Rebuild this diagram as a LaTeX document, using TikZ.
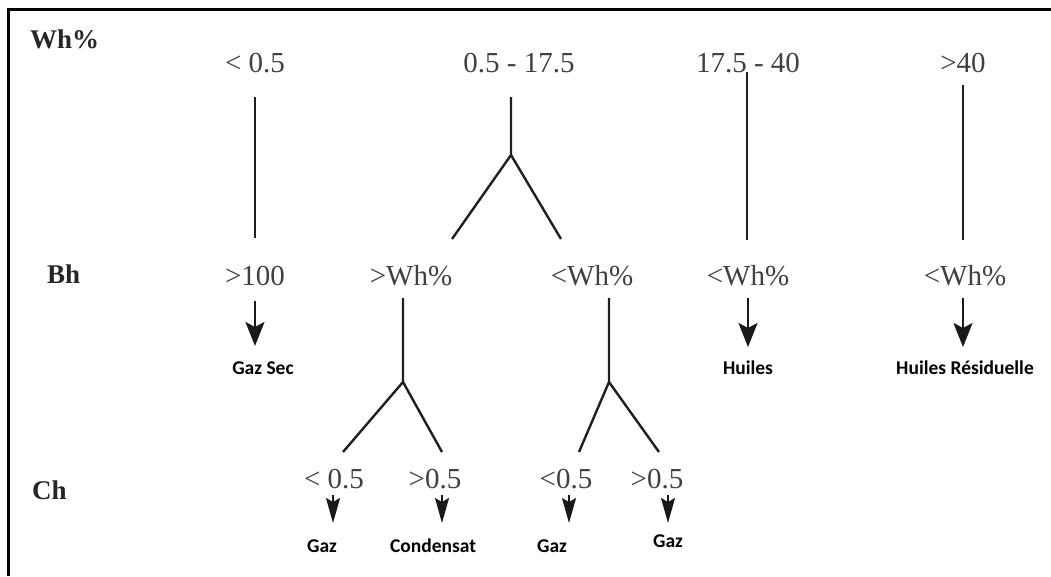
\documentclass[tikz,border=0pt]{standalone}
\usepackage{fontspec}
\setmainfont{Liberation Serif}
\newfontfamily\lblfont{Carlito}
\usetikzlibrary{arrows.meta}
\begin{document}
\begin{tikzpicture}[x=1pt,y=-1pt,
  val/.style={anchor=base, inner sep=0pt, text=black!75, font=\fontsize{29}{30}\selectfont},
  rowhead/.style={anchor=base west, inner sep=0pt, text=black!85, font=\fontsize{27}{28}\selectfont\bfseries},
  res/.style={anchor=base, inner sep=0pt, font=\lblfont\bfseries\fontsize{19.5}{20}\selectfont},
  link/.style={line width=2.4pt, draw=black!88},
  bigarr/.style={line width=2.4pt, draw=black!90, -{Stealth[length=24pt,width=19pt,inset=5pt]}},
  smallarr/.style={line width=1.8pt, draw=black!90, -{Stealth[length=25pt,width=14pt,inset=4pt]}}]
\useasboundingbox (0,0) rectangle (1051,576);
% frame (top and left edges)
\draw[line width=3pt] (8,576) -- (8,9.5) -- (1051,9.5);

% row headings
\node[rowhead] (hw) at (30,48) {Wh\%};
\node[rowhead] (hb) at (47,283) {Bh};
\node[rowhead] (hc) at (32,499) {Ch};

% Wh% values
\node[val] (w1) at (255,72) {< 0.5};
\node[val] (w2) at (519,72) {0.5 - 17.5};
\node[val] (w3) at (748,72) {17.5 - 40};
\node[val] (w4) at (963,72) {>40};

% Bh values
\node[val] (b1) at (255,285) {>100};
\node[val] (b2) at (411,285) {>Wh\%};
\node[val] (b3) at (592,285) {<Wh\%};
\node[val] (b4) at (748,285) {<Wh\%};
\node[val] (b5) at (965,285) {<Wh\%};

% Ch values
\node[val] (c1) at (334,488) {< 0.5};
\node[val] (c2) at (435,488) {>0.5};
\node[val] (c3) at (566,488) {<0.5};
\node[val] (c4) at (657,488) {>0.5};

% results
\node[res] (r1) at (263,374) {Gaz Sec};
\node[res] (r2) at (748,374) {Huiles};
\node[res] (r3) at (965,374) {Huiles Résiduelle};
\node[res] (r4) at (322,552) {Gaz};
\node[res] (r5) at (433,552) {Condensat};
\node[res] (r6) at (552,552) {Gaz};
\node[res] (r7) at (668,547) {Gaz};

% connector end points
\coordinate (w1s) at (255,97);   \coordinate (b1n) at (255,238);
\coordinate (w2s) at (511,97);   \coordinate (j2) at (511,155);
\coordinate (b2n) at (452,239);  \coordinate (b3n) at (561,239);
\coordinate (w3s) at (747,72);   \coordinate (b4n) at (747,240);
\coordinate (w4s) at (963,85);   \coordinate (b5n) at (963,240);
\coordinate (b2s) at (403,298);  \coordinate (j3) at (403,382);
\coordinate (c1n) at (343,452);  \coordinate (c2n) at (442,452);
\coordinate (b3s) at (609,298);  \coordinate (j4) at (609,382);
\coordinate (c3n) at (579,452);  \coordinate (c4n) at (659,452);

% tree lines
\draw[link] (w1s) -- (b1n);
\draw[link] (w2s) -- (j2) -- (b2n);
\draw[link] (j2) -- (b3n);
\draw[link] (w3s) -- (b4n);
\draw[link] (w4s) -- (b5n);
\draw[link] (b2s) -- (j3) -- (c1n);
\draw[link] (j3) -- (c2n);
\draw[link] (b3s) -- (j4) -- (c3n);
\draw[link] (j4) -- (c4n);

% arrows Bh -> result
\coordinate (a1s) at (255,301); \coordinate (a1e) at (255,346);
\coordinate (a2s) at (748,298); \coordinate (a2e) at (748,347);
\coordinate (a3s) at (963,298); \coordinate (a3e) at (963,347);
\draw[bigarr] (a1s) -- (a1e);
\draw[bigarr] (a2s) -- (a2e);
\draw[bigarr] (a3s) -- (a3e);

% arrows Ch -> result
\coordinate (d1s) at (333,495); \coordinate (d1e) at (333,523);
\coordinate (d2s) at (442,495); \coordinate (d2e) at (442,523);
\coordinate (d3s) at (569,495); \coordinate (d3e) at (569,523);
\coordinate (d4s) at (668,495); \coordinate (d4e) at (668,523);
\draw[smallarr] (d1s) -- (d1e);
\draw[smallarr] (d2s) -- (d2e);
\draw[smallarr] (d3s) -- (d3e);
\draw[smallarr] (d4s) -- (d4e);
\end{tikzpicture}
\end{document}
